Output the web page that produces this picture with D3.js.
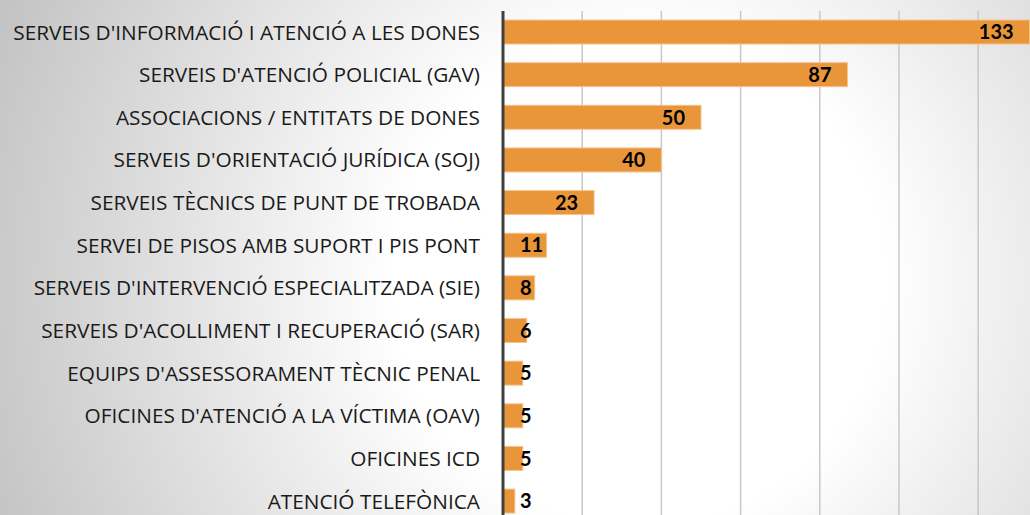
<!DOCTYPE html>
<html>
<meta charset="utf-8">
<style>
    body { margin: 0; }
    .label { font-family: "Open Sans", Lato, sans-serif; font-size: 20.8px; fill: #1a1a1a; }
    .value { font-family: Lato, "Open Sans", sans-serif; font-size: 20px; font-weight: bold; fill: #000; }
    .grid line { stroke: #c8c8c8; stroke-width: 1.5px; }
    .bar { fill: #e9963a; stroke: #f5c48e; stroke-width: 1px; }
</style>
<body>
<script src="https://d3js.org/d3.v7.min.js"></script>
<script>

    var width = 1030,
        height = 515;

    var categories = [
        "SERVEIS D'INFORMACIÓ I ATENCIÓ A LES DONES",
        "SERVEIS D'ATENCIÓ POLICIAL (GAV)",
        "ASSOCIACIONS / ENTITATS DE DONES",
        "SERVEIS D'ORIENTACIÓ JURÍDICA (SOJ)",
        "SERVEIS TÈCNICS DE PUNT DE TROBADA",
        "SERVEI DE PISOS AMB SUPORT I PIS PONT",
        "SERVEIS D'INTERVENCIÓ ESPECIALITZADA (SIE)",
        "SERVEIS D'ACOLLIMENT I RECUPERACIÓ (SAR)",
        "EQUIPS D'ASSESSORAMENT TÈCNIC PENAL",
        "OFICINES D'ATENCIÓ A LA VÍCTIMA (OAV)",
        "OFICINES ICD",
        "ATENCIÓ TELEFÒNICA"
    ];

    var values = [133, 87, 50, 40, 23, 11, 8, 6, 5, 5, 5, 3];

    var gridTicks = [20, 40, 60, 80, 100, 120, 140];

    var x0 = 503;

    var x = d3.scaleLinear()
        .domain([0, 140])
        .range([x0, x0 + 140 * 3.96]);

    var y = d3.scaleBand()
        .domain(categories)
        .range([10.7, 522.4])
        .paddingInner(0.437)
        .paddingOuter(0.2185);

    var svg = d3.select("body").append("svg")
        .attr("width", width)
        .attr("height", height);

    // background gradient, white in the middle, grey towards the edges
    var defs = svg.append("defs");
    var grad = defs.append("radialGradient")
        .attr("id", "bg")
        .attr("gradientUnits", "userSpaceOnUse")
        .attr("cx", 640).attr("cy", 280).attr("r", 700);
    grad.append("stop").attr("offset", 0).attr("stop-color", "#ffffff");
    grad.append("stop").attr("offset", 0.35).attr("stop-color", "#ffffff");
    grad.append("stop").attr("offset", 1).attr("stop-color", "#c2c2c2");

    svg.append("rect")
        .attr("width", width)
        .attr("height", height)
        .attr("fill", "url(#bg)");

    svg.append("g")
        .attr("class", "grid")
        .selectAll("line")
        .data(gridTicks)
        .enter().append("line")
        .attr("x1", function (d) { return x(d); })
        .attr("x2", function (d) { return x(d); })
        .attr("y1", 11)
        .attr("y2", height);

    svg.selectAll(".bar")
        .data(values)
        .enter().append("rect")
        .attr("class", "bar")
        .attr("x", x(0))
        .attr("y", function (d, i) { return y(categories[i]); })
        .attr("width", function (d) { return x(d) - x(0); })
        .attr("height", y.bandwidth());

    // vertical axis line
    svg.append("line")
        .attr("x1", x0).attr("x2", x0)
        .attr("y1", 11).attr("y2", height)
        .attr("stroke", "#404040")
        .attr("stroke-width", 3);

    svg.selectAll(".label")
        .data(categories)
        .enter().append("text")
        .attr("class", "label")
        .attr("x", 480)
        .attr("y", function (d) { return y(d) + y.bandwidth() / 2; })
        .attr("dy", "0.36em")
        .attr("text-anchor", "end")
        .text(function (d) { return d; });

    svg.selectAll(".value")
        .data(values)
        .enter().append("text")
        .attr("class", "value")
        .attr("y", function (d, i) { return y(categories[i]) + y.bandwidth() / 2; })
        .attr("dy", "0.36em")
        .attr("text-anchor", "end")
        .text(function (d) { return d; })
        .attr("x", function (d) {
            var w = this.getComputedTextLength();
            return Math.max(x(d) - 16, x0 + 17 + w);
        });

</script>
</body>
</html>
